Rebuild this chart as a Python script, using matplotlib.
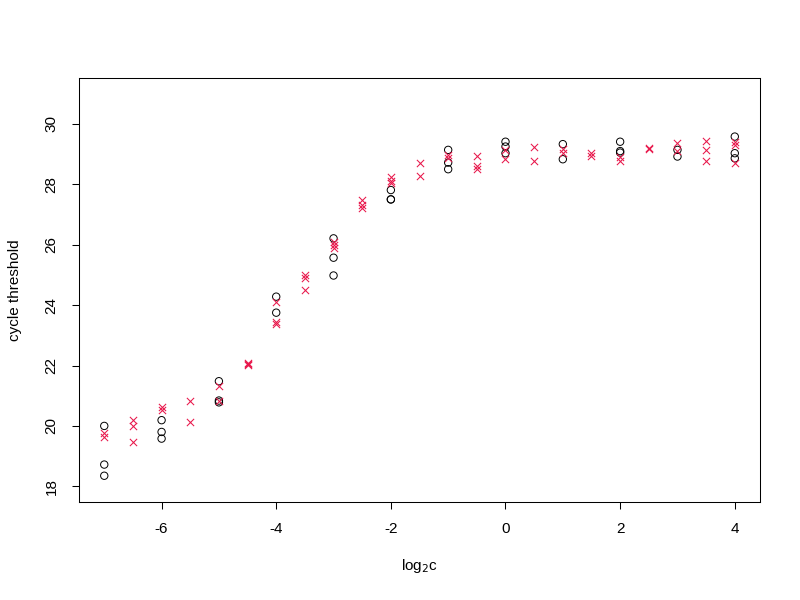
import matplotlib
matplotlib.use("Agg")
import matplotlib.pyplot as plt

plt.rcParams['font.family'] = ['Liberation Sans', 'DejaVu Sans']
plt.rcParams['axes.unicode_minus'] = False

# circles (black): log2 concentration and cycle threshold
circ_x = [-7, -7, -7,
          -6, -6, -6,
          -5, -5, -5,
          -4, -4,
          -3, -3, -3,
          -2, -2, -2,
          -1, -1, -1,
          0, 0, 0,
          1, 1,
          2, 2, 2,
          3, 3,
          4, 4, 4]
circ_y = [20.0, 18.72, 18.35,
          20.19, 19.8, 19.58,
          21.48, 20.84, 20.78,
          24.28, 23.75,
          26.21, 25.57, 24.98,
          27.81, 27.5, 27.5,
          29.14, 28.72, 28.5,
          29.41, 29.25, 29.03,
          29.33, 28.83,
          29.41, 29.1, 29.05,
          29.14, 28.92,
          29.58, 29.03, 28.86]

# crosses (red)
cross_x = [-7, -7,
           -6.5, -6.5, -6.5,
           -6, -6,
           -5.5, -5.5,
           -5, -5,
           -4.5, -4.5, -4.5,
           -4, -4, -4,
           -3.5, -3.5, -3.5,
           -3, -3, -3,
           -2.5, -2.5, -2.5,
           -2, -2, -2,
           -1.5, -1.5,
           -1, -1,
           -0.5, -0.5, -0.5,
           0, 0,
           0.5, 0.5,
           1, 1,
           1.5, 1.5,
           2, 2,
           2.5, 2.5,
           3, 3,
           3.5, 3.5, 3.5,
           4, 4, 4]
cross_y = [19.75, 19.62,
           20.19, 20.0, 19.47,
           20.63, 20.52,
           20.82, 20.13,
           21.33, 20.82,
           22.08, 22.05, 22.03,
           24.11, 23.45, 23.36,
           25.0, 24.89, 24.5,
           26.1, 26.0, 25.88,
           27.48, 27.32, 27.22,
           28.25, 28.12, 28.05,
           28.7, 28.27,
           28.97, 28.86,
           28.95, 28.62, 28.52,
           29.14, 28.85,
           29.25, 28.78,
           29.16, 29.05,
           29.05, 28.95,
           28.92, 28.77,
           29.2, 29.18,
           29.36, 29.1,
           29.42, 29.15, 28.78,
           29.41, 29.3, 28.72]

x_ticks = [-6, -4, -2, 0, 2, 4]
y_ticks = [18, 20, 22, 24, 26, 28, 30]

fig = plt.figure(figsize=(8, 6), dpi=100)
ax = fig.add_axes([0.0988, 0.1633, 0.8512, 0.7067])

ax.scatter(circ_x, circ_y, marker='o', s=5.3 ** 2, facecolors='none',
           edgecolors='black', linewidths=0.7, zorder=3)
ax.scatter(cross_x, cross_y, marker='x', s=5.2 ** 2, color='#E8174B',
           linewidths=0.75, zorder=4)

ax.set_xlim(-7.44, 4.44)
ax.set_ylim(17.48, 31.52)
ax.set_xticks(x_ticks)
ax.set_yticks(y_ticks)
ax.set_xticklabels([str(v) for v in x_ticks])
ax.set_yticklabels([str(v) for v in y_ticks], rotation=90, va='center')

ax.tick_params(direction='out', length=5.2, width=0.75, labelsize=11,
               pad=9.5)
for s in ax.spines.values():
    s.set_linewidth(0.75)

ax.set_xlabel('log$_2$c', fontsize=11, labelpad=15)
ax.set_ylabel('cycle threshold', fontsize=11, labelpad=16)

fig.savefig('out.png', dpi=100)
